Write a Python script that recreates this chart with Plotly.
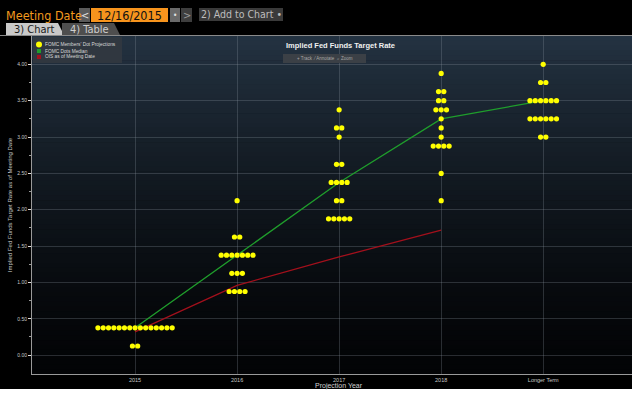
import plotly.graph_objects as go

# ---------------- data ----------------
categories = ["2015", "2016", "2017", "2018", "Longer Term"]

levels_2015 = [0.375, 0.125]
counts_2015 = [15, 2]
levels_2016 = [2.125, 1.625, 1.375, 1.125, 0.875]
counts_2016 = [1, 2, 7, 3, 4]
levels_2017 = [3.375, 3.125, 3.0, 2.625, 2.375, 2.125, 1.875]
counts_2017 = [1, 2, 1, 2, 4, 2, 5]
levels_2018 = [3.875, 3.625, 3.5, 3.375, 3.25, 3.125, 3.0, 2.875, 2.5, 2.125]
counts_2018 = [1, 2, 2, 3, 1, 1, 1, 4, 1, 1]
levels_longer = [4.0, 3.75, 3.5, 3.25, 3.0]
counts_longer = [1, 2, 6, 6, 2]

median_values = [0.375, 1.375, 2.375, 3.25, 3.5]
ois_values = [0.32, 0.96, 1.35, 1.72]

y_tick_values = [0, 0.5, 1, 1.5, 2, 2.5, 3, 3.5, 4]
y_tick_labels = ["0.00", "0.50", "1.00", "1.50", "2.00", "2.50", "3.00", "3.50", "4.00"]

# ---------------- layout helpers ----------------
W, H = 640, 398
L, R, T, B = 32, 632, 36, 374  # plot area in pixels


def px(x):
    return (x - L) / (R - L)


def py(y):
    return (B - y) / (B - T)


DOT_STEP = 0.052
col_levels = [levels_2015, levels_2016, levels_2017, levels_2018, levels_longer]
col_counts = [counts_2015, counts_2016, counts_2017, counts_2018, counts_longer]
dot_x, dot_y = [], []
for i, (lv, ct) in enumerate(zip(col_levels, col_counts)):
    for v, n in zip(lv, ct):
        for k in range(n):
            dot_x.append(i + (k - (n - 1) / 2) * DOT_STEP)
            dot_y.append(v)

fig = go.Figure()
fig.add_trace(go.Scatter(x=list(range(len(categories))), y=median_values, mode="lines",
                         line=dict(color="#1f9e2c", width=1.3), name="FOMC Dots Median",
                         showlegend=False, hoverinfo="skip"))
fig.add_trace(go.Scatter(x=list(range(len(ois_values))), y=ois_values, mode="lines",
                         line=dict(color="#a3101c", width=1.3), name="OIS as of Meeting Date",
                         showlegend=False, hoverinfo="skip"))
fig.add_trace(go.Scatter(x=dot_x, y=dot_y, mode="markers",
                         marker=dict(color="#ffff00", size=5.2, line=dict(width=0)),
                         name="FOMC Members' Dot Projections", showlegend=False))

shapes = []
# gradient background of the plot panel
N = 70
top_c = (36, 51, 66)
bot_c = (3, 4, 6)
for j in range(N):
    t = (j + 0.5) / N
    f = (1 - t) ** 1.4
    c = tuple(int(bot_c[m] + (top_c[m] - bot_c[m]) * f) for m in range(3))
    y0 = T + (B - T) * j / N
    y1 = T + (B - T) * (j + 1) / N + 0.6
    shapes.append(dict(type="rect", xref="paper", yref="paper", x0=0, x1=1,
                       y0=py(y1), y1=py(y0), fillcolor="rgb(%d,%d,%d)" % c,
                       line=dict(width=0), layer="below"))
# white margins (right, bottom)
shapes.append(dict(type="rect", xref="paper", yref="paper", x0=px(632), x1=px(W + 5),
                   y0=py(H + 5), y1=py(-5), fillcolor="white", line=dict(width=0)))
shapes.append(dict(type="rect", xref="paper", yref="paper", x0=px(-5), x1=px(W + 5),
                   y0=py(H + 5), y1=py(389), fillcolor="white", line=dict(width=0)))
# line under tabs
shapes.append(dict(type="line", xref="paper", yref="paper", x0=px(0), x1=px(632),
                   y0=py(35.5), y1=py(35.5), line=dict(color="#8a8a8a", width=1)))


def rect(x0, y0, x1, y1, color):
    shapes.append(dict(type="rect", xref="paper", yref="paper", x0=px(x0), x1=px(x1),
                       y0=py(y1), y1=py(y0), fillcolor=color, line=dict(width=0)))


# header widgets
rect(79, 8, 90, 22, "#5a5a5a")
rect(91, 8, 168, 22, "#f7941d")
rect(170, 8, 180, 22, "#6a6a6a")
rect(181, 8, 192, 22, "#3e3e3e")
rect(199, 8, 283, 21, "#3a3a3a")


def tab(x0, x1, color):
    path = "M %f,%f L %f,%f L %f,%f L %f,%f Z" % (
        px(x0), py(35), px(x0), py(23), px(x1 - 6), py(23), px(x1), py(35))
    shapes.append(dict(type="path", xref="paper", yref="paper", path=path,
                       fillcolor=color, line=dict(width=0)))


tab(6, 64, "#c9c9c9")
tab(62, 120, "#4e4e4e")
# legend box
rect(33, 37, 122, 63, "rgba(50,56,64,0.9)")
shapes.append(dict(type="circle", xref="paper", yref="paper", x0=px(36), x1=px(42),
                   y0=py(47.5), y1=py(41.5), fillcolor="#ffff00", line=dict(width=0)))
rect(37, 49, 41, 53, "#1f9e2c")
rect(37, 55, 41, 59, "#a3101c")
# toolbar box
rect(283, 54, 366, 63, "#3b4046")

annotations = []
NARROW = "DejaVu Sans Condensed, Liberation Sans Narrow, Arial"


def text(x, y, s, size, color, xanchor="left", bold=False, family=NARROW):
    annotations.append(dict(xref="paper", yref="paper", x=px(x), y=py(y), text=("<b>%s</b>" % s) if bold else s,
                            showarrow=False, xanchor=xanchor, yanchor="middle",
                            font=dict(size=size, color=color, family=family)))


text(4, 15, "Meeting Date", 12.5, "#f39a1e")
text(84.5, 15, "&lt;", 11, "#e0e0e0", xanchor="center")
text(129.5, 15.5, "12/16/2015", 12.5, "#111111", xanchor="center")
text(175, 15, "•", 8, "#e0e0e0", xanchor="center")
text(186.5, 15, "&gt;", 11, "#9a9a9a", xanchor="center")
text(241, 14.5, "2) Add to Chart •", 10.5, "#bdbdbd", xanchor="center")
text(12, 29.5, "3) Chart", 11, "#1a1a1a")
text(68, 29.5, "4) Table", 11, "#cfcfcf")
text(340, 45, "Implied Fed Funds Target Rate", 7.5, "#f0f0f0", xanchor="center", bold=True, family="Arial")
text(324.5, 58.5, "+ Track &nbsp;⁄ Annotate &nbsp;⌕ Zoom", 4.5, "#a8a8a8", xanchor="center", family="Arial")
text(43, 44.5, "FOMC Members' Dot Projections", 4.8, "#d8d8d8", family="Arial")
text(43, 51, "FOMC Dots Median", 4.8, "#d8d8d8", family="Arial")
text(43, 57, "OIS as of Meeting Date", 4.8, "#d8d8d8", family="Arial")
text(339, 386, "Projection Year", 7, "#d0d0d0", xanchor="center", family="Arial")

fig.update_layout(
    width=W, height=H,
    margin=dict(l=L, r=W - R, t=T, b=H - B),
    paper_bgcolor="black", plot_bgcolor="black",
    shapes=shapes, annotations=annotations,
    showlegend=False,
    xaxis=dict(range=[-1.01, 4.87], tickmode="array", tickvals=list(range(len(categories))),
               ticktext=categories, showgrid=True, gridcolor="rgba(140,150,160,0.28)", gridwidth=1,
               zeroline=False, showline=True, linecolor="#9a9a9a", linewidth=1,
               ticks="", tickfont=dict(size=5.5, color="#c8c8c8", family="Arial"), ticklabelstandoff=0),
    yaxis=dict(range=[-0.26, 4.39], tickmode="array", tickvals=y_tick_values, ticktext=y_tick_labels,
               showgrid=True, gridcolor="rgba(140,150,160,0.28)", gridwidth=1, zeroline=False,
               showline=True, linecolor="#9a9a9a", linewidth=1,
               ticks="outside", ticklen=3, tickcolor="#e0e0e0", tickwidth=1,
               tickfont=dict(size=5, color="#c8c8c8", family="Arial"),
               minor=dict(tickmode="array", tickvals=[0.25, 0.75, 1.25, 1.75, 2.25, 2.75, 3.25, 3.75],
                          ticks="outside", ticklen=2, tickcolor="#9a9a9a", showgrid=False),
               title=dict(text="Implied Fed Funds Target Rate as of Meeting Date",
                          font=dict(size=6, color="#c8c8c8", family="Arial"), standoff=4)),
)

fig.write_html("out.html", config={"displayModeBar": False},
               post_script="document.body.style.margin='0';document.body.style.padding='0';")
